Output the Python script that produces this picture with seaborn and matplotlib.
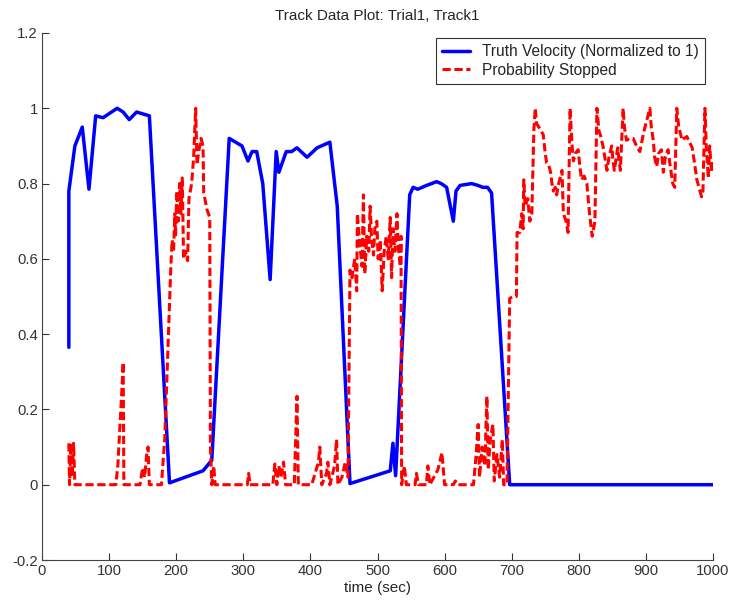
import numpy as np
import pandas as pd
import matplotlib
matplotlib.use("Agg")
import matplotlib.pyplot as plt
import seaborn as sns

# truth velocity (normalized)
vel_t = [40, 40, 49, 60, 70, 80, 91, 112, 121, 130, 141, 160, 190, 240, 253,
         279, 298, 307, 313, 320, 329, 340, 349, 353, 364, 372, 380, 395, 410,
         429, 440, 459, 519, 523, 527, 548, 553, 560, 573, 588, 595, 603, 613,
         617, 623, 640, 650, 657, 664, 670, 697, 1000]
vel = [0.365, 0.78, 0.90, 0.95, 0.785, 0.98, 0.975, 1.0, 0.99, 0.97, 0.99, 0.98,
       0.005, 0.037, 0.065, 0.92, 0.90, 0.86, 0.885, 0.885, 0.80, 0.545, 0.885,
       0.83, 0.885, 0.885, 0.895, 0.87, 0.895, 0.91, 0.74, 0.003, 0.037, 0.11,
       0.024, 0.77, 0.79, 0.785, 0.795, 0.805, 0.80, 0.79, 0.70, 0.78, 0.795,
       0.80, 0.795, 0.79, 0.79, 0.775, 0.0, 0.0]

# probability stopped
prob_t = [40, 41, 43, 45, 47, 49, 110, 113, 116, 119, 121, 122, 146, 150, 153,
          156, 158, 160, 178, 183, 188, 192, 194, 196, 198, 199, 201, 203, 205,
          207, 209, 211, 214, 217, 219, 223, 226, 229, 231, 234, 237, 240, 241,
          246, 250, 251, 253, 256, 258, 263, 306, 308, 310, 344, 347, 350, 353,
          356, 360, 363, 376, 378, 380, 382, 402, 412, 414, 417, 424, 426, 429,
          436, 439, 441, 447, 452, 456, 459, 462, 466, 469, 470, 473, 477, 479,
          481, 484, 487, 489, 491, 494, 496, 499, 501, 504, 507, 510, 513, 516,
          519, 521, 523, 526, 529, 531, 534, 535, 536, 540, 543, 556, 558, 561,
          573, 575, 578, 590, 596, 600, 613, 616, 619, 643, 647, 650, 652, 656,
          660, 663, 665, 668, 672, 674, 678, 682, 686, 688, 693, 697, 702, 707,
          708, 712, 715, 717, 718, 720, 724, 727, 730, 733, 735, 737, 742, 747,
          750, 752, 755, 758, 760, 762, 765, 767, 770, 775, 777, 781, 784, 787,
          790, 792, 795, 799, 802, 804, 808, 812, 816, 820, 824, 827, 830, 832,
          836, 842, 845, 849, 851, 853, 856, 858, 860, 862, 866, 868, 871, 876,
          881, 886, 891, 896, 900, 906, 908, 911, 913, 916, 919, 923, 926, 929,
          933, 936, 940, 943, 946, 949, 954, 957, 961, 965, 969, 972, 976, 979,
          983, 985, 988, 990, 993, 995, 998, 1000]
prob = [0.11, 0.0, 0.11, 0.02, 0.11, 0.0, 0.0, 0.05, 0.15, 0.25, 0.325, 0.0, 0.0,
        0.045, 0.02, 0.08, 0.10, 0.0, 0.0, 0.125, 0.38, 0.58, 0.65, 0.62, 0.72,
        0.66, 0.78, 0.70, 0.80, 0.72, 0.815, 0.60, 0.62, 0.595, 0.76, 0.80, 0.87,
        1.0, 0.85, 0.89, 0.92, 0.90, 0.775, 0.73, 0.71, 0.10, 0.0, 0.05, 0.0,
        0.0, 0.0, 0.03, 0.0, 0.0, 0.055, 0.0, 0.05, 0.02, 0.06, 0.0, 0.0, 0.12,
        0.235, 0.0, 0.0, 0.06, 0.10, 0.0, 0.03, 0.06, 0.0, 0.05, 0.12, 0.0, 0.02,
        0.06, 0.02, 0.57, 0.55, 0.60, 0.515, 0.72, 0.65, 0.58, 0.77, 0.56, 0.66,
        0.62, 0.74, 0.66, 0.61, 0.68, 0.70, 0.60, 0.65, 0.515, 0.62, 0.66, 0.60,
        0.71, 0.55, 0.68, 0.62, 0.72, 0.63, 0.58, 0.66, 0.0, 0.05, 0.0, 0.0,
        0.03, 0.0, 0.0, 0.05, 0.0, 0.04, 0.085, 0.0, 0.0, 0.01, 0.0, 0.0, 0.08,
        0.16, 0.02, 0.10, 0.05, 0.235, 0.04, 0.12, 0.16, 0.01, 0.08, 0.02, 0.12,
        0.0, 0.0, 0.495, 0.50, 0.50, 0.67, 0.67, 0.72, 0.68, 0.81, 0.74, 0.76,
        0.70, 0.72, 0.94, 1.0, 0.96, 0.945, 0.93, 0.88, 0.855, 0.85, 0.83, 0.80,
        0.78, 0.79, 0.77, 0.80, 0.835, 0.72, 0.70, 0.67, 1.0, 0.90, 0.86, 0.88,
        0.89, 0.84, 0.81, 0.82, 0.80, 0.72, 0.66, 0.70, 1.0, 0.94, 0.93, 0.90,
        0.835, 0.87, 0.90, 0.86, 0.835, 0.87, 0.895, 0.86, 0.835, 1.0, 0.95,
        0.915, 0.92, 0.92, 0.90, 0.885, 0.93, 0.96, 1.0, 0.95, 0.915, 0.87,
        0.845, 0.88, 0.89, 0.83, 0.87, 0.89, 0.85, 0.80, 0.79, 1.0, 0.95, 0.915,
        0.92, 0.925, 0.91, 0.895, 0.86, 0.81, 0.79, 0.765, 0.78, 1.0, 0.90,
        0.815, 0.90, 0.83, 0.86]

x_ticks = list(range(0, 1001, 100))
y_ticks = [-0.2, 0, 0.2, 0.4, 0.6, 0.8, 1, 1.2]
y_labels = ["-0.2", "0", "0.2", "0.4", "0.6", "0.8", "1", "1.2"]

sns.set_style("ticks")
plt.rcParams["font.family"] = ["Liberation Sans", "DejaVu Sans"]
plt.rcParams["xtick.direction"] = "in"
plt.rcParams["ytick.direction"] = "in"

vel_df = pd.DataFrame({"t": vel_t, "v": vel})
prob_df = pd.DataFrame({"t": prob_t, "p": prob})

fig = plt.figure(figsize=(7.3, 6.04), dpi=100)
ax = fig.add_axes([42 / 730, 44 / 604, 671 / 730, 527 / 604])

sns.lineplot(data=vel_df, x="t", y="v", ax=ax, estimator=None, sort=False,
             color=(0, 0, 1), linewidth=2.5, label="Truth Velocity (Normalized to 1)")
sns.lineplot(data=prob_df, x="t", y="p", ax=ax, estimator=None, sort=False,
             color=(1, 0, 0), linewidth=2.2, linestyle=(0, (2.7, 1.2)),
             label="Probability Stopped")

ax.set_xlim(0, 1000)
ax.set_ylim(-0.2, 1.2)
ax.set_xticks(x_ticks)
ax.set_yticks(y_ticks)
ax.set_yticklabels(y_labels)
ax.tick_params(labelsize=10.7, length=5, width=0.8, colors="#333333", pad=3)
for s in ["left", "bottom"]:
    ax.spines[s].set_color("#444444")
    ax.spines[s].set_linewidth(0.8)
sns.despine(ax=ax)

ax.set_title("Track Data Plot: Trial1, Track1", fontsize=11, pad=9)
ax.set_xlabel("time (sec)", fontsize=11, labelpad=2)
ax.set_ylabel("")

leg = ax.legend(loc="upper right", bbox_to_anchor=(0.988, 0.99),
                borderaxespad=0, fontsize=11.2, frameon=True, fancybox=False,
                edgecolor="#333333", framealpha=1,
                handlelength=1.8, handletextpad=0.8, labelspacing=0.22,
                borderpad=0.38)
leg.get_frame().set_linewidth(0.8)

fig.savefig("out.png", dpi=100)
